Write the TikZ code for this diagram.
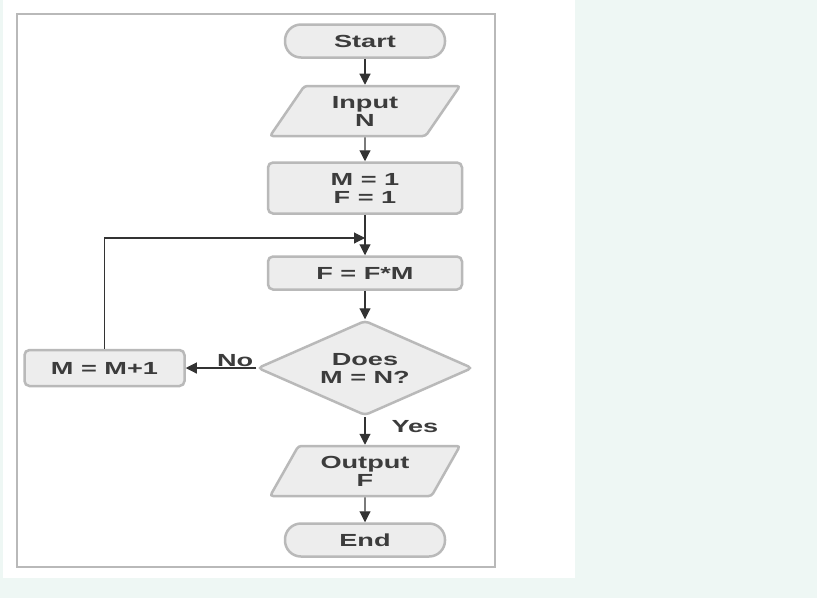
\documentclass[tikz,border=0pt]{standalone}
\usepackage{fontspec}
\newfontfamily\fcfont[FakeStretch=1.55]{Liberation Sans Bold}
\usetikzlibrary{shapes.geometric,arrows.meta}
\definecolor{bgmint}{RGB}{238,247,244}
\definecolor{txt}{RGB}{60,60,60}
\begin{document}
\begin{tikzpicture}[x=1pt,y=-1pt,
 base/.style={draw=gray!55, line width=2.5pt, fill=gray!14, text=txt, font=\fcfont\fontsize{17.5}{18}\selectfont, align=center, inner sep=0pt},
 term/.style={base, rectangle, rounded corners=16pt, minimum width=160pt, minimum height=33pt},
 io/.style={base, trapezium, trapezium left angle=58, trapezium right angle=122, trapezium stretches=true, minimum width=190pt, minimum height=50pt, rounded corners=3pt},
 proc/.style={base, rectangle, rounded corners=5pt, minimum width=194pt},
 dec/.style={base, diamond, aspect=2.26, minimum width=215pt, minimum height=95pt, rounded corners=4pt},
 conn/.style={draw=black!80, line width=1.1pt, -{Triangle[length=11pt,width=11pt]}},
 lbl/.style={text=txt, font=\fcfont\fontsize{17.5}{18}\selectfont, inner sep=1pt}
]
\useasboundingbox (0,0) rectangle (817,598);
\fill[bgmint] (0,0) rectangle (817,598);
\fill[white] (3,0) rectangle (575,578);
\draw[gray!55, line width=2pt] (17,14) rectangle (495,567);

\node[term] (start) at (365,41) {Start};
\node[io] (input) at (365,111) {Input\\N};
\node[proc, minimum height=51pt] (init) at (365,188) {M = 1\\F = 1};
\node[proc, minimum height=33pt] (calc) at (365,273) {F = F*M};
\node[dec] (test) at (365,368) {Does\\M = N?};
\node[proc, minimum width=160pt, minimum height=36pt] (inc) at (104.5,368) {M = M+1};
\node[io] (output) at (365,471) {Output\\F};
\node[term] (end) at (365,540) {End};
\coordinate (join) at (365,238);

\draw[conn] (start) -- (input);
\draw[conn] (input) -- (init);
\draw[conn] (init) -- (calc);
\draw[conn] (calc) -- (test);
\draw[conn] (test) -- node[lbl, above, pos=0.3] {No} (inc);
\draw[conn] (inc.north) |- (join);
\draw[conn] (test) -- node[lbl, anchor=west, pos=0.35, xshift=25pt] {Yes} (output);
\draw[conn] (output) -- (end);
\end{tikzpicture}
\end{document}
